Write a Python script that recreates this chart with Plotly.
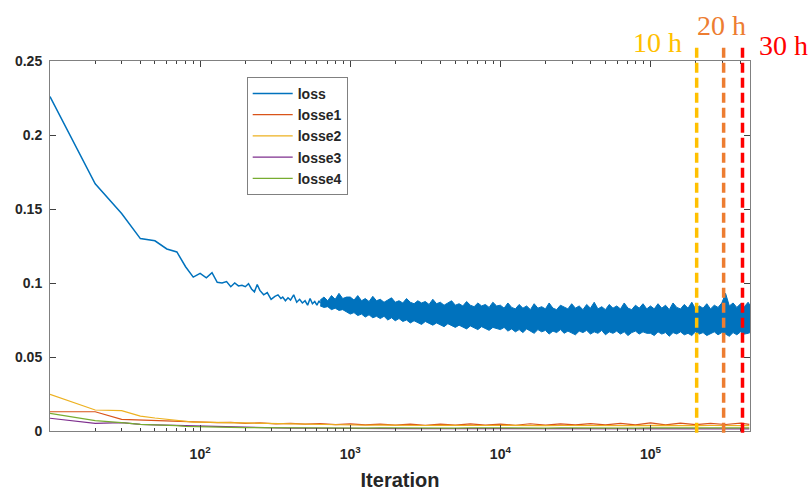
import numpy as np
import plotly.graph_objects as go

# ---------------- data ----------------
loss_iter = [10, 20, 30, 40, 50, 60, 70, 80, 90, 100, 110, 120, 130, 140, 150, 160, 170, 180, 190, 200,
             210, 220, 230, 240, 250, 265, 280, 297, 315, 330, 345, 355, 370, 385, 400, 420, 440, 460,
             480, 500, 520, 540, 560, 580, 600, 620, 631]
loss_val = [0.226, 0.167, 0.147, 0.130, 0.1285, 0.123, 0.121, 0.111, 0.104, 0.1065, 0.1035, 0.107, 0.1005,
            0.100, 0.101, 0.0975, 0.100, 0.098, 0.0985, 0.0975, 0.0995, 0.096, 0.094, 0.099, 0.095, 0.092,
            0.0935, 0.089, 0.091, 0.092, 0.0895, 0.0905, 0.088, 0.090, 0.0885, 0.092, 0.087, 0.089, 0.0865,
            0.088, 0.085, 0.0895, 0.086, 0.0875, 0.085, 0.088, 0.0865]

# dense noisy part of the loss curve: upper / lower envelope of the band
band_iter = [631, 668, 708, 750, 794, 841, 891, 944,
             1000, 1059, 1122, 1189, 1259, 1334, 1413, 1496, 1585, 1679, 1778, 1884, 1995, 2113, 2239,
             2371, 2512, 2661, 2818, 2985, 3162, 3350, 3548, 3758, 3981, 4217, 4467, 4732, 5012, 5309,
             5623, 5957, 6310, 6683, 7079, 7499, 7943, 8414, 8913, 9441,
             10000, 10590, 11220, 11890, 12590, 13340, 14130, 14960, 15850, 16790, 17780, 18840, 19950,
             21130, 22390, 23710, 25120, 26610, 28180, 29850, 31620, 33500, 35480, 37580, 39810, 42170,
             44670, 47320, 50120, 53090, 56230, 59570, 63100, 66830, 70790, 74990, 79430, 84140, 89130,
             94410,
             100000, 105900, 112200, 118900, 125900, 133400, 141300, 149600, 158500, 167900, 177800,
             188400, 199500, 211300, 223900, 237100, 251200, 266100, 281800, 298500, 316200, 335000,
             354800, 375800, 398100, 421700, 446700, 460000]
band_hi = [0.0885, 0.0905, 0.0880, 0.0915, 0.0890, 0.0930, 0.0895, 0.0905,
           0.0905, 0.0885, 0.0915, 0.0880, 0.0895, 0.0875, 0.0910, 0.0880, 0.0890, 0.0870, 0.0885, 0.0900,
           0.0870, 0.0880, 0.0865, 0.0895, 0.0870, 0.0860, 0.0880, 0.0865, 0.0875, 0.0855, 0.0890, 0.0860,
           0.0870, 0.0850, 0.0865, 0.0880, 0.0850, 0.0860, 0.0845, 0.0875, 0.0850, 0.0840, 0.0865, 0.0845,
           0.0855, 0.0835, 0.0870, 0.0845,
           0.0850, 0.0830, 0.0865, 0.0835, 0.0825, 0.0855, 0.0830, 0.0845, 0.0820, 0.0860, 0.0830, 0.0840,
           0.0825, 0.0865, 0.0830, 0.0820, 0.0850, 0.0835, 0.0825, 0.0860, 0.0830, 0.0845, 0.0820, 0.0855,
           0.0830, 0.0870, 0.0825, 0.0840, 0.0820, 0.0855, 0.0830, 0.0845, 0.0825, 0.0865, 0.0830, 0.0820,
           0.0850, 0.0830, 0.0860, 0.0825,
           0.0845, 0.0825, 0.0860, 0.0830, 0.0850, 0.0820, 0.0865, 0.0835, 0.0825, 0.0855, 0.0830, 0.0870,
           0.0825, 0.0845, 0.0830, 0.0860, 0.0825, 0.0850, 0.0835, 0.0865, 0.0930, 0.0845, 0.0865, 0.0835,
           0.0860, 0.0840, 0.0870, 0.0850]
band_lo = [0.0845, 0.0835, 0.0840, 0.0820, 0.0830, 0.0815, 0.0820, 0.0805,
           0.0790, 0.0800, 0.0780, 0.0790, 0.0770, 0.0785, 0.0765, 0.0775, 0.0760, 0.0775, 0.0750, 0.0765,
           0.0745, 0.0760, 0.0740, 0.0750, 0.0730, 0.0745, 0.0735, 0.0720, 0.0740, 0.0725, 0.0715, 0.0730,
           0.0720, 0.0705, 0.0725, 0.0710, 0.0700, 0.0715, 0.0705, 0.0690, 0.0710, 0.0700, 0.0685, 0.0705,
           0.0695, 0.0680, 0.0700, 0.0690,
           0.0685, 0.0700, 0.0675, 0.0690, 0.0670, 0.0685, 0.0665, 0.0690, 0.0675, 0.0660, 0.0685, 0.0670,
           0.0680, 0.0655, 0.0675, 0.0665, 0.0685, 0.0660, 0.0675, 0.0665, 0.0650, 0.0675, 0.0665, 0.0680,
           0.0655, 0.0670, 0.0660, 0.0680, 0.0650, 0.0670, 0.0660, 0.0675, 0.0655, 0.0670, 0.0645, 0.0665,
           0.0675, 0.0655, 0.0670, 0.0660,
           0.0660, 0.0645, 0.0670, 0.0655, 0.0665, 0.0640, 0.0665, 0.0655, 0.0670, 0.0650, 0.0660, 0.0645,
           0.0670, 0.0655, 0.0665, 0.0645, 0.0660, 0.0670, 0.0650, 0.0665, 0.0655, 0.0640, 0.0665, 0.0650,
           0.0670, 0.0655, 0.0660, 0.0665]

small_iter = [10, 20, 30, 40, 50, 60, 70, 80, 90, 100, 130, 160, 200, 250, 320, 400, 500, 630, 800, 1000,
              1260, 1580, 2000, 2510, 3160, 3980, 5010, 6310, 7940, 10000, 12600, 15800, 20000, 25100,
              31600, 39800, 50100, 63100, 79400, 100000, 126000, 158000, 200000, 251000, 316000, 398000,
              455000]
losse1 = [0.013, 0.013, 0.0079, 0.0075, 0.0072, 0.007, 0.0066, 0.0063, 0.006, 0.0062, 0.0057, 0.0058,
          0.0052, 0.0055, 0.0048, 0.0052, 0.0046, 0.005, 0.0043, 0.0048, 0.0041, 0.0046, 0.004, 0.0047,
          0.0039, 0.0046, 0.004, 0.0048, 0.004, 0.0047, 0.0039, 0.0049, 0.004, 0.0048, 0.0041, 0.005,
          0.0041, 0.0052, 0.0042, 0.0055, 0.0042, 0.0053, 0.0043, 0.0052, 0.0044, 0.0053, 0.0045]
losse2 = [0.0248, 0.0142, 0.0137, 0.0101, 0.0088, 0.0078, 0.007, 0.0063, 0.006, 0.006, 0.0058, 0.0055,
          0.0053, 0.005, 0.0048, 0.0046, 0.0044, 0.0042, 0.0041, 0.004, 0.0039, 0.004, 0.0038, 0.0039,
          0.0037, 0.0039, 0.0037, 0.0038, 0.0037, 0.0038, 0.0036, 0.0038, 0.0036, 0.0037, 0.0036, 0.0038,
          0.0036, 0.0037, 0.0036, 0.0038, 0.0036, 0.0037, 0.0036, 0.0037, 0.0036, 0.0037, 0.0036]
losse3 = [0.0086, 0.0052, 0.0056, 0.0045, 0.0042, 0.004, 0.0038, 0.0035, 0.0032, 0.003, 0.0028, 0.0026,
          0.0024, 0.0022, 0.0021, 0.002, 0.0019, 0.0019, 0.0018, 0.0018, 0.0017, 0.0017, 0.0017, 0.0016,
          0.0016, 0.0016, 0.0016, 0.0015, 0.0015, 0.0015, 0.0015, 0.0015, 0.0015, 0.0015, 0.0015, 0.0015,
          0.0015, 0.0015, 0.0015, 0.0015, 0.0015, 0.0015, 0.0015, 0.0015, 0.0015, 0.0015, 0.0015]
losse4 = [0.0119, 0.007, 0.0056, 0.0045, 0.0042, 0.004, 0.0036, 0.0031, 0.0029, 0.0028, 0.0026, 0.0024,
          0.0023, 0.0022, 0.0021, 0.0021, 0.002, 0.0021, 0.002, 0.0021, 0.002, 0.0021, 0.002, 0.0021,
          0.002, 0.0021, 0.002, 0.0021, 0.002, 0.0021, 0.002, 0.0021, 0.002, 0.0021, 0.002, 0.0021,
          0.002, 0.0021, 0.002, 0.0021, 0.002, 0.0022, 0.002, 0.0022, 0.0021, 0.0022, 0.0021]

hour_labels = ["10 h", "20 h", "30 h"]
hour_iters = [2.03e5, 3.07e5, 4.1e5]
hour_colors = ["#FFC000", "#ED7D31", "#FF0000"]

x_ticks = [100, 1000, 10000, 100000]
x_ticktext = ["10<sup>2</sup>", "10<sup>3</sup>", "10<sup>4</sup>", "10<sup>5</sup>"]
y_ticks = [0, 0.05, 0.1, 0.15, 0.2, 0.25]
y_ticktext = ["0", "0.05", "0.1", "0.15", "0.2", "0.25"]
x_max = 4.6e5

# ---------------- figure ----------------
BLUE = "#0072BD"
FONT = "Liberation Sans, Arial, sans-serif"

fig = go.Figure()

fig.add_trace(go.Scatter(x=loss_iter, y=loss_val, mode="lines", name="loss",
                         line=dict(color=BLUE, width=1.5), legendrank=1))
fig.add_trace(go.Scatter(x=band_iter, y=band_hi, mode="lines", line=dict(color=BLUE, width=1),
                         showlegend=False, hoverinfo="skip"))
fig.add_trace(go.Scatter(x=band_iter, y=band_lo, mode="lines", line=dict(color=BLUE, width=1),
                         fill="tonexty", fillcolor=BLUE, showlegend=False, hoverinfo="skip"))
fig.add_trace(go.Scatter(x=small_iter, y=losse1, mode="lines", name="losse1",
                         line=dict(color="#D95319", width=1.2), legendrank=2))
fig.add_trace(go.Scatter(x=small_iter, y=losse2, mode="lines", name="losse2",
                         line=dict(color="#EDB120", width=1.2), legendrank=3))
fig.add_trace(go.Scatter(x=small_iter, y=losse3, mode="lines", name="losse3",
                         line=dict(color="#7E2F8E", width=1.2), legendrank=4))
fig.add_trace(go.Scatter(x=small_iter, y=losse4, mode="lines", name="losse4",
                         line=dict(color="#77AC30", width=1.2), legendrank=5))

# vertical dashed hour markers
label_shift = [-39, -2, 41]
label_y = [1.049, 1.097, 1.041]
for lab, it, col, xs, ly in zip(hour_labels, hour_iters, hour_colors, label_shift, label_y):
    fig.add_shape(type="line", xref="x", yref="paper", x0=it, x1=it, y0=-0.005, y1=1.04,
                  line=dict(color=col, width=3.5, dash="10px,5px"))
    fig.add_annotation(x=np.log10(it), xref="x", y=ly, yref="paper", text=lab, showarrow=False,
                       xshift=xs, yanchor="middle", xanchor="center",
                       font=dict(family="Liberation Serif, Times New Roman, serif", size=28,
                                 color=col, weight="normal"))

minor_vals = [m * 10 ** e for e in range(1, 6) for m in range(2, 10) if m * 10 ** e < x_max]

fig.update_layout(
    width=812, height=491,
    margin=dict(l=50, r=62, t=61, b=60, autoexpand=False),
    paper_bgcolor="white", plot_bgcolor="white",
    font=dict(family=FONT, size=12, color="#262626", weight="bold"),
    legend=dict(x=0.281, y=0.957, xanchor="left", yanchor="top", traceorder="normal",
                bordercolor="#808080", borderwidth=1, bgcolor="white", itemwidth=40,
                font=dict(family=FONT, size=14, color="#262626", weight="bold")),
    showlegend=True,
)
fig.update_xaxes(type="log", range=[1, np.log10(x_max)], automargin=False,
                 tickmode="array", tickvals=x_ticks, ticktext=x_ticktext,
                 ticks="inside", ticklen=6, tickcolor="#404040", ticklabelstandoff=10,
                 showline=True, linecolor="#808080", linewidth=1, mirror="ticks",
                 showgrid=False, zeroline=False,
                 minor=dict(tickmode="array", tickvals=minor_vals, ticks="inside", ticklen=3,
                            tickcolor="#404040", showgrid=False),
                 tickfont=dict(family=FONT, size=14, color="#262626", weight="bold"),
                 title=dict(text="Iteration", font=dict(family=FONT, size=20, color="#262626",
                                                        weight="bold"), standoff=19))
fig.update_yaxes(range=[0, 0.25], automargin=False, tickmode="array", tickvals=y_ticks,
                 ticktext=y_ticktext,
                 ticks="inside", ticklen=6, tickcolor="#404040", ticklabelstandoff=4,
                 showline=True, linecolor="#808080", linewidth=1, mirror="ticks",
                 showgrid=False, zeroline=False,
                 tickfont=dict(family=FONT, size=14, color="#262626", weight="bold"))

fig.write_html("out.html", config={"displayModeBar": False},
               post_script="document.body.style.margin='0px';")
